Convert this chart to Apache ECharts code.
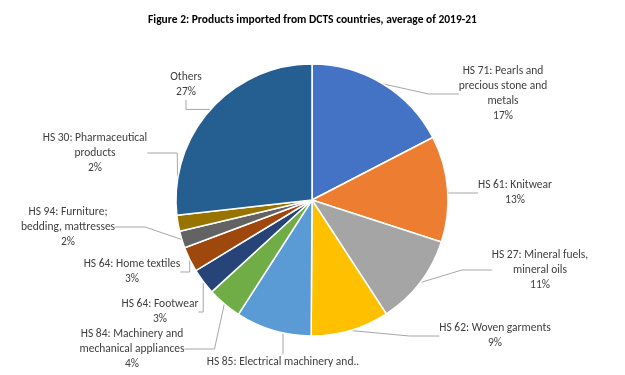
<!DOCTYPE html>
<html>
<head>
<meta charset="utf-8">
<script src="https://cdn.jsdelivr.net/npm/echarts@6/dist/echarts.min.js"></script>
<style>html,body{margin:0;padding:0;background:#fff}#c{width:625px;height:375px}</style>
</head>
<body>
<div id="c"></div>
<script>
var categories = [
  "HS 71: Pearls and\nprecious stone and\nmetals",
  "HS 61: Knitwear",
  "HS 27: Mineral fuels,\nmineral oils",
  "HS 62: Woven garments",
  "HS 85: Electrical machinery and..",
  "HS 84: Machinery and\nmechanical appliances",
  "HS 64: Footwear",
  "HS 64: Home textiles",
  "HS 94: Furniture;\nbedding, mattresses",
  "HS 30: Pharmaceutical\nproducts",
  "Others"
];
var shares = [17.4, 12.6, 10.8, 9.3, 9.0, 4.1, 3.1, 3.0, 2.0, 1.9, 26.8];
var colors = ["#4472C4", "#ED7D31", "#A5A5A5", "#FFC000", "#5B9BD5", "#70AD47", "#264478", "#9E480E", "#636363", "#997300", "#255E91"];
var titleText = "Figure 2: Products imported from DCTS countries, average of 2019-21";

// label block centres (layout only)
var labelPos = [[503, 94], [515, 193], [540, 270], [495, 336], [283, 362], [132, 349], [160, 312], [132, 272], [68, 227], [95, 153], [186, 85]];
var showPct = [true, true, true, true, false, true, true, true, true, true, true];

var chart = echarts.init(document.getElementById('c'));
var FONT = "Carlito, Lato, 'Open Sans', sans-serif";
chart.setOption({
  animation: false,
  title: {
    text: titleText,
    left: 'center',
    top: 9,
    textStyle: {fontFamily: FONT, fontSize: 11.5, fontWeight: 'bold', color: '#000'}
  },
  series: [{
    type: 'pie',
    center: [312, 200],
    radius: [0, 136],
    startAngle: 90,
    clockwise: true,
    avoidLabelOverlap: false,
    itemStyle: {borderColor: '#fff', borderWidth: 1.5},
    label: {
      show: true,
      position: 'outside',
      fontFamily: FONT,
      fontSize: 11.5,
      lineHeight: 15,
      color: '#404040',
      align: 'center',
      formatter: function (p) {
        return showPct[p.dataIndex] ? p.name + '\n' + Math.round(p.value) + '%' : p.name;
      }
    },
    labelLine: {show: true, lineStyle: {color: '#A6A6A6', width: 1}},
    labelLayout: function (params) {
      var pos = labelPos[params.dataIndex];
      return {x: pos[0], y: pos[1], align: 'center', verticalAlign: 'middle'};
    },
    data: categories.map(function (c, i) {
      return {name: c, value: shares[i], itemStyle: {color: colors[i]}};
    })
  }]
});
</script>
</body>
</html>
